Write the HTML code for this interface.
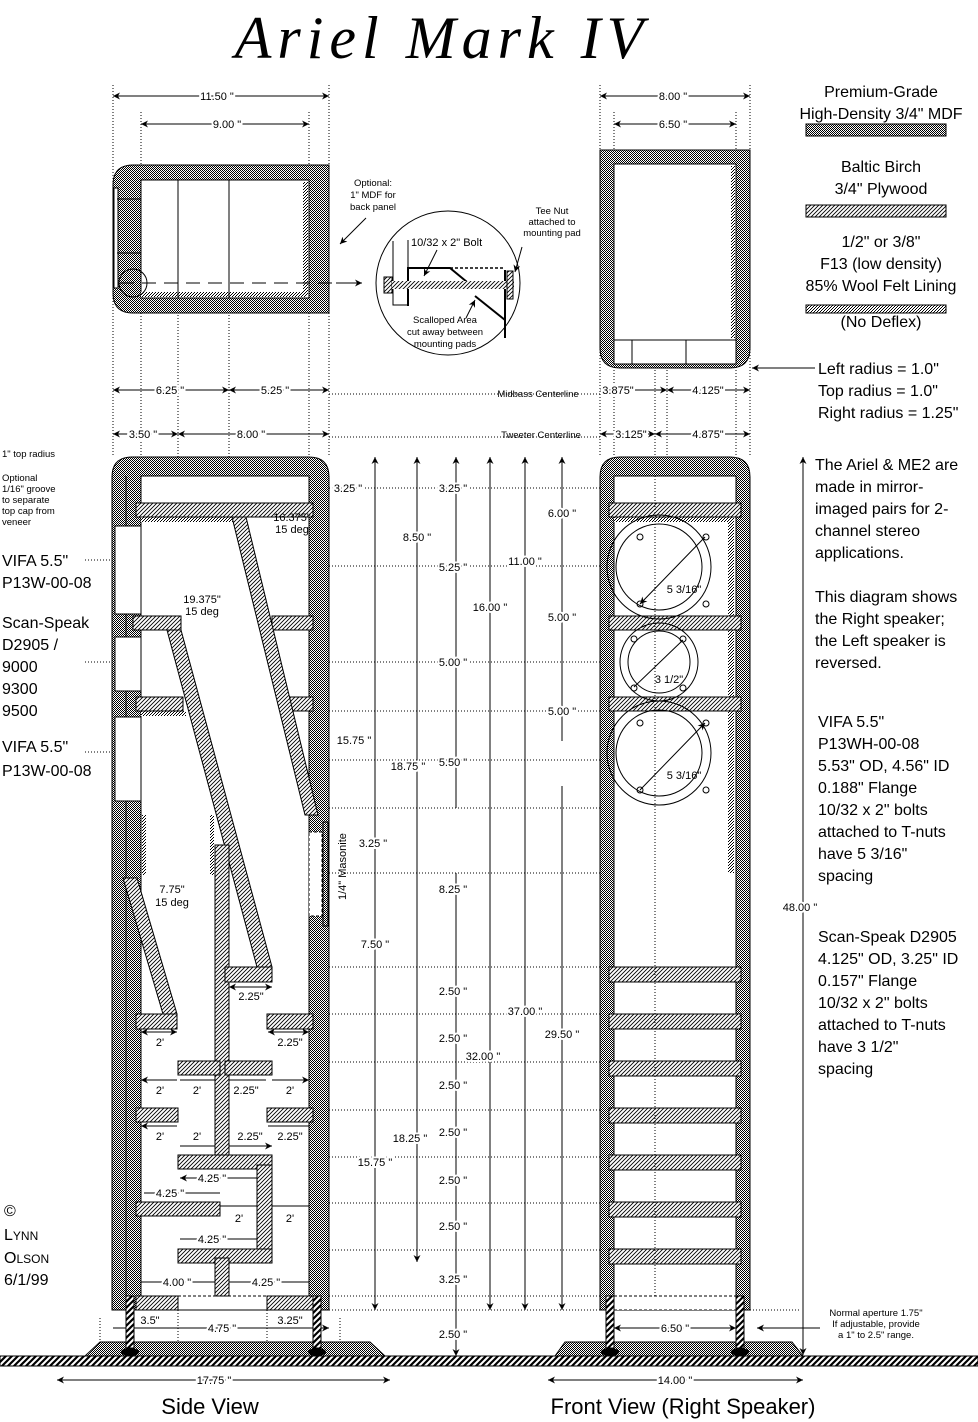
<!DOCTYPE html>
<html><head><meta charset="utf-8"><style>
html,body{margin:0;padding:0;background:#fff;}
svg{display:block;}
text{font-family:"Liberation Sans",sans-serif;fill:#000;}
.s{font-size:11px;}
.t{font-size:9.5px;}
.m{font-size:16px;}
.d{font-size:11px;paint-order:stroke;stroke:#fff;stroke-width:4px;}
</style></head><body>
<svg width="978" height="1422" viewBox="0 0 978 1422" xmlns="http://www.w3.org/2000/svg">
<defs>
<pattern id="ck" width="2" height="2" patternUnits="userSpaceOnUse"><rect width="2" height="2" fill="#fff"/><rect width="1" height="1" fill="#000"/><rect x="1" y="1" width="1" height="1" fill="#000"/></pattern>
<pattern id="ht" width="4" height="4" patternUnits="userSpaceOnUse"><rect width="4" height="4" fill="#fff"/><path d="M-1,5 L5,-1 M-1,1 L1,-1 M3,5 L5,3" stroke="#000" stroke-width="0.9"/></pattern>
<pattern id="hb" width="6" height="6" patternUnits="userSpaceOnUse"><rect width="6" height="6" fill="#fff"/><path d="M-1,7 L7,-1 M-1,1 L1,-1 M5,7 L7,5" stroke="#000" stroke-width="2.2"/></pattern>
<pattern id="fl" width="3" height="3" patternUnits="userSpaceOnUse"><rect width="3" height="3" fill="#fff"/><rect width="1" height="1" fill="#000"/><rect x="1" y="2" width="1" height="1" fill="#000"/><rect x="2" y="1" width="1" height="1" fill="#000"/></pattern>
<marker id="a" viewBox="0 0 10 10" refX="10" refY="5" markerWidth="9" markerHeight="7" orient="auto-start-reverse" markerUnits="userSpaceOnUse"><path d="M0,0 L10,5 L0,10 L3,5z" fill="#000"/></marker>
</defs>

<!-- Title -->
<text x="442" y="58" text-anchor="middle" style="font-family:'Liberation Serif',serif;font-style:italic;font-size:60px;letter-spacing:6px">Ariel Mark IV</text>

<!-- dotted construction lines -->
<g stroke="#000" stroke-width="1" stroke-dasharray="1,2" fill="none">
<path d="M113,85V457 M141,112V457 M178,300V457 M229,300V457 M309,112V457 M329,85V457 M600,85V457 M614,112V457 M655,370V457 M667,370V457 M736,112V457 M750,85V457"/>
<path d="M329,488H600 M329,566H610 M329,662H610 M329,711H610 M329,760H610 M329,808H600 M329,873H600 M329,967H610 M329,1014H610 M329,1062H610 M329,1110H610 M329,1157H610 M329,1203H610 M329,1250H610 M329,1296H600 M329,1310H600 M750,1310H800 M100,1318V1342 M178,1310V1342 M267,1310V1342 M340,1318V1342"/>
<path d="M329,394H600 M329,437H600"/>
</g>

<!-- ===== TOP VIEW SIDE ===== -->
<path d="M133,165 H329 V313 H133 Q113,313 113,293 V185 Q113,165 133,165z" fill="url(#ck)" stroke="#000"/>
<rect x="141" y="180" width="168" height="118" fill="#fff" stroke="#000"/>
<rect x="141" y="292" width="166" height="5" fill="url(#fl)"/>
<rect x="303" y="182" width="5" height="114" fill="url(#fl)"/>
<path d="M178,180V298 M229,180V298" stroke="#000"/>
<rect x="114" y="188" width="4" height="100" fill="#fff" stroke="#000"/>
<path d="M117,199H141 M117,253H141" stroke="#000"/>
<circle cx="133" cy="283" r="14" fill="none" stroke="#000"/>
<path d="M120,283H360" stroke="#000" stroke-dasharray="14,8"/>
<path d="M336,283H362" stroke="#000" marker-end="url(#a)"/>
<text class="t" x="373" y="186" text-anchor="middle">Optional:</text>
<text class="t" x="373" y="198" text-anchor="middle">1" MDF for</text>
<text class="t" x="373" y="210" text-anchor="middle">back panel</text>
<path d="M366,218L340,244" stroke="#000" marker-end="url(#a)"/>
<!-- magnifier -->
<circle cx="448" cy="283" r="72" fill="#fff" stroke="#000"/>
<path d="M393,241V305H408V268 M408,240V268" stroke="#000" fill="none"/>
<path d="M408,306V268H450L467,282 M475,296L505,320 M505,270V338" stroke="#000" stroke-width="2" fill="none"/>
<path d="M450,268H505" stroke="#000" stroke-dasharray="3,2" stroke-width="1.5"/>
<rect x="384" y="277" width="8" height="16" fill="url(#ht)" stroke="#000"/>
<rect x="392" y="281" width="122" height="8" fill="url(#ht)"/>
<rect x="507" y="271" width="6" height="28" fill="url(#ht)" stroke="#000"/>
<path d="M522,247L515,272" stroke="#000" marker-end="url(#a)"/>
<text class="t" x="552" y="214" text-anchor="middle">Tee Nut</text>
<text class="t" x="552" y="225" text-anchor="middle">attached to</text>
<text class="t" x="552" y="236" text-anchor="middle">mounting pad</text>
<text class="s" x="411" y="246">10/32 x 2" Bolt</text>
<path d="M437,250L424,276" stroke="#000" marker-end="url(#a)"/>
<text class="t" x="445" y="323" text-anchor="middle">Scalloped Area</text>
<text class="t" x="445" y="335" text-anchor="middle">cut away between</text>
<text class="t" x="445" y="347" text-anchor="middle">mounting pads</text>
<path d="M466,318L475,300" stroke="#000" marker-end="url(#a)"/>

<!-- ===== TOP VIEW FRONT ===== -->
<path d="M600,150 H750 V348 Q750,368 730,368 H620 Q600,368 600,348z" fill="url(#ck)" stroke="#000"/>
<rect x="614" y="164" width="122" height="176" fill="#fff" stroke="#000"/>
<rect x="614" y="340" width="122" height="24" fill="#fff" stroke="#000"/>
<path d="M632,340V364 M686,340V364" stroke="#000"/>
<rect x="731" y="166" width="4" height="172" fill="url(#fl)"/>

<!-- top horizontal dims -->
<g stroke="#000" fill="none">
<path d="M113,96H329" marker-start="url(#a)" marker-end="url(#a)"/>
<path d="M141,124H309" marker-start="url(#a)" marker-end="url(#a)"/>
<path d="M600,96H750" marker-start="url(#a)" marker-end="url(#a)"/>
<path d="M614,124H736" marker-start="url(#a)" marker-end="url(#a)"/>
<path d="M113,390H229" marker-start="url(#a)" marker-end="url(#a)"/>
<path d="M229,390H329" marker-start="url(#a)" marker-end="url(#a)"/>
<path d="M113,434H178" marker-start="url(#a)" marker-end="url(#a)"/>
<path d="M178,434H329" marker-start="url(#a)" marker-end="url(#a)"/>
<path d="M600,390H667" marker-start="url(#a)" marker-end="url(#a)"/>
<path d="M667,390H750" marker-start="url(#a)" marker-end="url(#a)"/>
<path d="M600,434H655" marker-start="url(#a)" marker-end="url(#a)"/>
<path d="M655,434H750" marker-start="url(#a)" marker-end="url(#a)"/>
<path d="M57,1380H390" marker-start="url(#a)" marker-end="url(#a)"/>
<path d="M548,1380H803" marker-start="url(#a)" marker-end="url(#a)"/>
</g>
<g class="d" text-anchor="middle">
<text x="217" y="100">11.50 "</text><text x="227" y="128">9.00 "</text>
<text x="673" y="100">8.00 "</text><text x="673" y="128">6.50 "</text>
<text x="170" y="394">6.25 "</text><text x="275" y="394">5.25 "</text>
<text x="143" y="438">3.50 "</text><text x="251" y="438">8.00 "</text>
<text x="618" y="394">3.875"</text><text x="708" y="394">4.125"</text>
<text x="631" y="438">3.125"</text><text x="708" y="438">4.875"</text>
<text x="214" y="1384">17.75 "</text><text x="675" y="1384">14.00 "</text>
</g>
<text class="t" x="538" y="397" text-anchor="middle">Midbass Centerline</text>
<text class="t" x="541" y="438" text-anchor="middle">Tweeter Centerline</text>

<!-- ===== SIDE VIEW ===== -->
<path d="M132,457 H309 Q329,457 329,477 V1310 H112 V477 Q112,457 132,457z" fill="url(#ck)" stroke="#000"/>
<rect x="141" y="476" width="168" height="834" fill="#fff" stroke="#000"/>
<path d="M126,476V1310" stroke="#000"/>
<rect x="115" y="526" width="26" height="88" fill="#fff" stroke="#000"/>
<rect x="115" y="637" width="26" height="54" fill="#fff" stroke="#000"/>
<rect x="115" y="717" width="26" height="84" fill="#fff" stroke="#000"/>
<rect x="141" y="517" width="95" height="5" fill="url(#fl)"/>
<rect x="141" y="711" width="45" height="5" fill="url(#fl)"/>
<rect x="142" y="815" width="4" height="60" fill="url(#fl)"/>
<rect x="210" y="815" width="4" height="60" fill="url(#fl)"/>
<g fill="url(#ht)" stroke="#000">
<rect x="136" y="503" width="177" height="14"/>
<rect x="133" y="616" width="48" height="14"/><rect x="272" y="616" width="41" height="14"/>
<rect x="136" y="697" width="47" height="14"/><rect x="290" y="697" width="23" height="14"/>
<polygon points="232,517 246,517 318,815 305,815"/>
<polygon points="167,630 181,630 272,967 257,967"/>
<polygon points="123,878 137,878 177,1014 163,1014"/>
<rect x="215" y="845" width="14" height="315"/>
<rect x="225" y="967" width="47" height="15"/>
<rect x="136" y="1014" width="41" height="15"/><rect x="267" y="1014" width="46" height="15"/>
<rect x="178" y="1061" width="42" height="14"/><rect x="225" y="1061" width="47" height="14"/>
<rect x="136" y="1108" width="42" height="14"/><rect x="267" y="1108" width="46" height="14"/>
<rect x="178" y="1155" width="94" height="14"/>
<rect x="257" y="1165" width="15" height="88"/>
<rect x="136" y="1202" width="84" height="14"/>
<rect x="178" y="1249" width="94" height="14"/>
<rect x="215" y="1258" width="14" height="38"/>
<rect x="136" y="1296" width="42" height="14"/><rect x="267" y="1296" width="46" height="14"/>
</g>
<path d="M178,1296H267" stroke="#000" stroke-dasharray="3,2"/>
<rect x="309" y="832" width="13" height="84" fill="#fff" stroke="#000" stroke-dasharray="3,2"/>
<rect x="323" y="822" width="5" height="104" fill="url(#ck)" stroke="#000"/>
<text class="s" transform="translate(346,900) rotate(-90)">1/4" Masonite</text>
<text class="s" x="292" y="521" text-anchor="middle">16.375"</text><text class="s" x="292" y="533" text-anchor="middle">15 deg</text>
<text class="s" x="202" y="603" text-anchor="middle">19.375"</text><text class="s" x="202" y="615" text-anchor="middle">15 deg</text>
<text class="s" x="172" y="893" text-anchor="middle">7.75"</text><text class="s" x="172" y="906" text-anchor="middle">15 deg</text>

<!-- side small dims -->
<g stroke="#000" fill="none">
<path d="M229,987H272" marker-start="url(#a)" marker-end="url(#a)"/>
<path d="M141,1032H177" marker-start="url(#a)" marker-end="url(#a)"/>
<path d="M268,1032H309" marker-start="url(#a)" marker-end="url(#a)"/>
<path d="M141,1080H177 M180,1080H215 M229,1080H266 M272,1080H309" marker-start="url(#a)" marker-end="url(#a)"/>
<path d="M141,1126H177 M268,1126H309 M180,1146H215 M229,1146H272" marker-start="url(#a)" marker-end="url(#a)"/>
<path d="M180,1178H257 M144,1193H220 M220,1206H257 M272,1206H309 M180,1239H257 M141,1282H215 M229,1282H309 M113,1328H178 M178,1328H267 M267,1328H329" marker-start="url(#a)" marker-end="url(#a)"/>
</g>
<g class="d" text-anchor="middle">
<text x="251" y="1000">2.25"</text><text x="160" y="1046">2'</text><text x="290" y="1046">2.25"</text>
<text x="160" y="1094">2'</text><text x="197" y="1094">2'</text><text x="246" y="1094">2.25"</text><text x="290" y="1094">2'</text>
<text x="160" y="1140">2'</text><text x="197" y="1140">2'</text><text x="250" y="1140">2.25"</text><text x="290" y="1140">2.25"</text>
<text x="212" y="1182">4.25 "</text><text x="170" y="1197">4.25 "</text><text x="239" y="1222">2'</text><text x="290" y="1222">2'</text>
<text x="212" y="1243">4.25 "</text><text x="177" y="1286">4.00 "</text><text x="266" y="1286">4.25 "</text>
<text x="150" y="1324">3.5"</text><text x="222" y="1332">4.75 "</text><text x="290" y="1324">3.25"</text>
</g>

<!-- ===== FRONT VIEW ===== -->
<path d="M620,457 H730 Q750,457 750,477 V1310 H600 V477 Q600,457 620,457z" fill="url(#ck)" stroke="#000"/>
<rect x="614" y="476" width="122" height="834" fill="#fff" stroke="#000"/>
<rect x="728" y="517" width="6" height="356" fill="url(#fl)"/>
<rect x="614" y="517" width="120" height="5" fill="url(#fl)"/>
<g fill="url(#ht)" stroke="#000">
<rect x="609" y="503" width="132" height="14"/><rect x="609" y="616" width="132" height="14"/><rect x="609" y="697" width="132" height="14"/>
<rect x="609" y="967" width="132" height="15"/><rect x="609" y="1014" width="132" height="15"/><rect x="609" y="1061" width="132" height="15"/>
<rect x="609" y="1108" width="132" height="15"/><rect x="609" y="1155" width="132" height="15"/><rect x="609" y="1202" width="132" height="15"/>
<rect x="609" y="1249" width="132" height="15"/>
</g>
<rect x="609" y="1296" width="132" height="14" fill="#fff" stroke="#000" stroke-dasharray="3,2"/>
<g fill="none" stroke="#000">
<circle cx="659" cy="567" r="52"/><circle cx="659" cy="567" r="43"/>
<circle cx="659" cy="662" r="39"/><circle cx="659" cy="662" r="31"/>
<circle cx="659" cy="753" r="52"/><circle cx="659" cy="753" r="43"/>
<path d="M640,604L705,537 M634,687L683,640 M640,790L705,723" marker-start="url(#a)" marker-end="url(#a)"/>
<circle cx="640" cy="604" r="3"/><circle cx="706" cy="537" r="3"/><circle cx="640" cy="537" r="3"/><circle cx="706" cy="604" r="3"/>
<circle cx="634" cy="688" r="3"/><circle cx="683" cy="639" r="3"/><circle cx="634" cy="639" r="3"/><circle cx="683" cy="688" r="3"/>
<circle cx="640" cy="790" r="3"/><circle cx="706" cy="723" r="3"/><circle cx="640" cy="723" r="3"/><circle cx="706" cy="790" r="3"/>
<path d="M655,476V1296" stroke-dasharray="1,2"/>
</g>
<text class="s" x="684" y="593" text-anchor="middle">5 3/16"</text>
<text class="s" x="669" y="683" text-anchor="middle">3 1/2"</text>
<text class="s" x="684" y="779" text-anchor="middle">5 3/16"</text>

<!-- feet / base / floor -->
<polygon points="85,1356 100,1342 370,1342 385,1356" fill="url(#ck)" stroke="#000"/>
<polygon points="555,1356 565,1342 792,1342 803,1356" fill="url(#ck)" stroke="#000"/>
<g fill="url(#hb)" stroke="#000">
<rect x="126" y="1296" width="8" height="52"/><rect x="313" y="1296" width="8" height="52"/>
<rect x="606" y="1296" width="8" height="52"/><rect x="736" y="1296" width="8" height="52"/>
</g>
<g fill="#000"><ellipse cx="130" cy="1352" rx="9" ry="4"/><ellipse cx="317" cy="1352" rx="9" ry="4"/><ellipse cx="610" cy="1352" rx="9" ry="4"/><ellipse cx="740" cy="1352" rx="9" ry="4"/></g>
<rect x="0" y="1356" width="978" height="10" fill="url(#hb)" stroke="#000"/>
<g stroke="#000" fill="none">
<path d="M614,1328H736" marker-start="url(#a)" marker-end="url(#a)"/>
<path d="M820,1328H757" marker-end="url(#a)"/>
</g>
<text class="d" x="675" y="1332" text-anchor="middle">6.50 "</text>
<text class="t" x="876" y="1316" text-anchor="middle">Normal aperture 1.75"</text>
<text class="t" x="876" y="1327" text-anchor="middle">If adjustable, provide</text>
<text class="t" x="876" y="1338" text-anchor="middle">a 1" to 2.5" range.</text>

<!-- vertical dims middle -->
<g stroke="#000" fill="none">
<path d="M375,457V488 M375,488V808 M375,808V873 M375,873V1014 M375,1014V1310" marker-start="url(#a)" marker-end="url(#a)"/>
<path d="M417,457V607 M417,607V939 M417,939V1262" marker-start="url(#a)" marker-end="url(#a)"/>
<path d="M456,457V515 M456,515V608 M456,608V697 M456,697V808 M456,873V967 M456,967V1014 M456,1014V1062 M456,1062V1110 M456,1110V1157 M456,1157V1203 M456,1203V1250 M456,1250V1310 M456,1310V1356" marker-start="url(#a)" marker-end="url(#a)"/>
<path d="M490,457V741 M490,741V1310" marker-start="url(#a)" marker-end="url(#a)"/>
<path d="M525,457V652 M525,652V1310" marker-start="url(#a)" marker-end="url(#a)"/>
<path d="M562,457V564 M562,564V652 M562,652V741 M562,786V1310" marker-start="url(#a)" marker-end="url(#a)"/>
<path d="M803,457V1355" marker-start="url(#a)" marker-end="url(#a)"/>
</g>
<g class="d" text-anchor="middle">
<text x="348" y="492">3.25 "</text><text x="354" y="744">15.75 "</text><text x="373" y="847">3.25 "</text><text x="375" y="948">7.50 "</text><text x="375" y="1166">15.75 "</text>
<text x="417" y="541">8.50 "</text><text x="408" y="770">18.75 "</text><text x="410" y="1142">18.25 "</text>
<text x="453" y="492">3.25 "</text><text x="453" y="571">5.25 "</text><text x="453" y="666">5.00 "</text><text x="453" y="766">5.50 "</text><text x="453" y="893">8.25 "</text>
<text x="453" y="995">2.50 "</text><text x="453" y="1042">2.50 "</text><text x="453" y="1089">2.50 "</text><text x="453" y="1136">2.50 "</text><text x="453" y="1184">2.50 "</text><text x="453" y="1230">2.50 "</text><text x="453" y="1283">3.25 "</text><text x="453" y="1338">2.50 "</text>
<text x="490" y="611">16.00 "</text><text x="483" y="1060">32.00 "</text>
<text x="525" y="565">11.00 "</text><text x="525" y="1015">37.00 "</text>
<text x="562" y="517">6.00 "</text><text x="562" y="621">5.00 "</text><text x="562" y="715">5.00 "</text><text x="562" y="1038">29.50 "</text>
<text x="800" y="911">48.00 "</text>
</g>

<!-- legend -->
<g class="m" text-anchor="middle">
<text x="881" y="97">Premium-Grade</text><text x="881" y="119">High-Density 3/4" MDF</text>
<text x="881" y="172">Baltic Birch</text><text x="881" y="194">3/4" Plywood</text>
<text x="881" y="247">1/2" or 3/8"</text><text x="881" y="269">F13 (low density)</text><text x="881" y="291">85% Wool Felt Lining</text>
<text x="881" y="327">(No Deflex)</text>
</g>
<rect x="806" y="124" width="140" height="12" fill="url(#ck)" stroke="#000"/>
<rect x="806" y="205" width="140" height="12" fill="url(#ht)" stroke="#000"/>
<rect x="806" y="305" width="140" height="8" fill="url(#fl)" stroke="#000"/>
<path d="M815,368H752" stroke="#000" marker-end="url(#a)"/>
<g class="m">
<text x="818" y="374">Left radius = 1.0"</text><text x="818" y="396">Top radius = 1.0"</text><text x="818" y="418">Right radius = 1.25"</text>
<text x="815" y="470">The Ariel &amp; ME2 are</text><text x="815" y="492">made in mirror-</text><text x="815" y="514">imaged pairs for 2-</text><text x="815" y="536">channel stereo</text><text x="815" y="558">applications.</text>
<text x="815" y="602">This diagram shows</text><text x="815" y="624">the Right speaker;</text><text x="815" y="646">the Left speaker is</text><text x="815" y="668">reversed.</text>
<text x="818" y="727">VIFA 5.5"</text><text x="818" y="749">P13WH-00-08</text><text x="818" y="771">5.53" OD, 4.56" ID</text><text x="818" y="793">0.188" Flange</text><text x="818" y="815">10/32 x 2" bolts</text><text x="818" y="837">attached to T-nuts</text><text x="818" y="859">have 5  3/16"</text><text x="818" y="881">spacing</text>
<text x="818" y="942">Scan-Speak D2905</text><text x="818" y="964">4.125" OD, 3.25" ID</text><text x="818" y="986">0.157" Flange</text><text x="818" y="1008">10/32 x 2" bolts</text><text x="818" y="1030">attached to T-nuts</text><text x="818" y="1052">have 3  1/2"</text><text x="818" y="1074">spacing</text>
</g>

<!-- left labels -->
<g class="t">
<text x="2" y="457">1" top radius</text>
<text x="2" y="481">Optional</text><text x="2" y="492">1/16" groove</text><text x="2" y="503">to separate</text><text x="2" y="514">top cap from</text><text x="2" y="525">veneer</text>
</g>
<g class="m">
<text x="2" y="566">VIFA 5.5"</text><text x="2" y="588">P13W-00-08</text>
<text x="2" y="628">Scan-Speak</text><text x="2" y="650">D2905 /</text><text x="2" y="672">9000</text><text x="2" y="694">9300</text><text x="2" y="716">9500</text>
<text x="2" y="752">VIFA 5.5"</text><text x="2" y="776">P13W-00-08</text>
</g>
<g stroke="#000" fill="none" stroke-dasharray="1,2">
<path d="M85,560H110 M85,662H110 M85,752H110"/>
</g>
<g style="font-family:'Liberation Serif',serif;font-size:16px">
<text x="4" y="1216">©</text>
<text x="4" y="1240">L<tspan font-size="12">YNN</tspan></text>
<text x="4" y="1263">O<tspan font-size="12">LSON</tspan></text>
<text x="4" y="1285">6/1/99</text>
</g>

<text x="210" y="1414" text-anchor="middle" style="font-size:22px">Side View</text>
<text x="683" y="1414" text-anchor="middle" style="font-size:22px">Front View (Right Speaker)</text>
</svg>
</body></html>
